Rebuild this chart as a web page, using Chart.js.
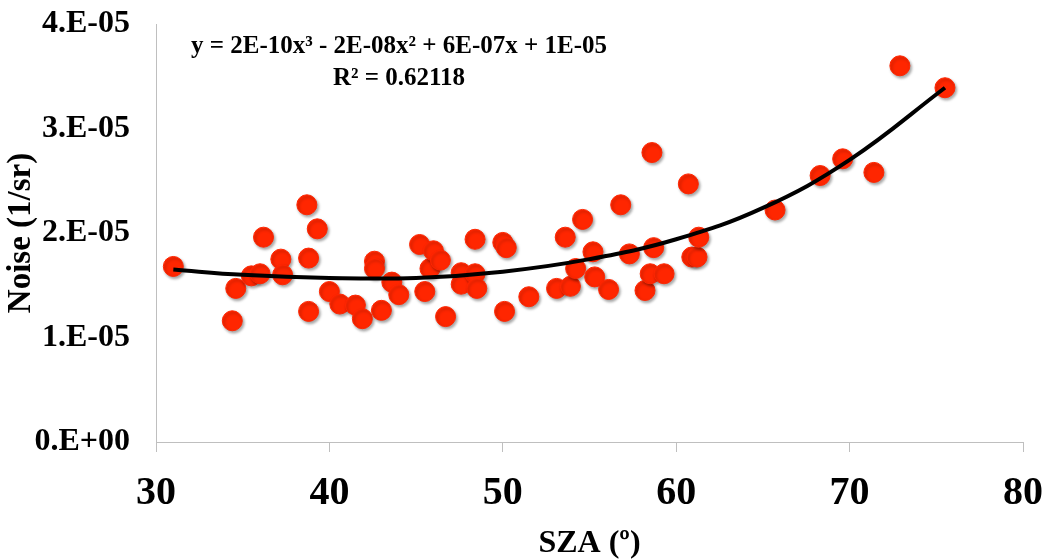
<!DOCTYPE html>
<html>
<head>
<meta charset="utf-8">
<script src="https://cdn.jsdelivr.net/npm/chart.js@4/dist/chart.umd.min.js"></script>
<style>
  body { margin: 0; background: #fff; }
</style>
</head>
<body>
<canvas id="c" width="1048" height="560"></canvas>
<script>
// SZA (deg) and noise (1/sr)
const sza = [31.0, 34.4, 34.6, 35.5, 36.0, 36.2, 37.2, 37.3, 38.7, 38.8,
             38.8, 39.3, 40.0, 40.6, 41.5, 41.9, 42.6, 42.6, 43.0, 43.6,
             44.0, 45.2, 45.5, 45.8, 46.0, 46.4, 46.7, 47.6, 47.6, 48.4,
             48.4, 48.5, 50.0, 50.2, 50.1, 51.5, 53.1, 53.6, 53.9, 54.2,
             54.6, 55.2, 55.3, 56.1, 56.8, 57.3, 58.2, 58.5, 58.6, 58.7,
             59.3, 60.7, 60.9, 61.2, 61.3, 65.7, 68.3, 69.6, 71.4, 72.9,
             75.5];
const noise = [1.68e-5, 1.16e-5, 1.47e-5, 1.59e-5, 1.61e-5, 1.96e-5, 1.75e-5, 1.60e-5, 2.27e-5, 1.76e-5,
               1.25e-5, 2.04e-5, 1.44e-5, 1.32e-5, 1.31e-5, 1.18e-5, 1.73e-5, 1.66e-5, 1.26e-5, 1.53e-5,
               1.41e-5, 1.89e-5, 1.44e-5, 1.66e-5, 1.83e-5, 1.74e-5, 1.20e-5, 1.62e-5, 1.51e-5, 1.61e-5,
               1.94e-5, 1.47e-5, 1.91e-5, 1.86e-5, 1.25e-5, 1.39e-5, 1.47e-5, 1.96e-5, 1.49e-5, 1.66e-5,
               2.13e-5, 1.82e-5, 1.58e-5, 1.46e-5, 2.27e-5, 1.80e-5, 1.45e-5, 1.61e-5, 2.77e-5, 1.86e-5,
               1.61e-5, 2.47e-5, 1.77e-5, 1.77e-5, 1.96e-5, 2.22e-5, 2.55e-5, 2.71e-5, 2.58e-5, 3.60e-5,
               3.39e-5];

// cubic trendline
const trendX = [31, 35, 40, 45, 50, 55, 60, 65, 70, 75.5];
const trendY = [1.65e-5, 1.60e-5, 1.57e-5, 1.57e-5, 1.63e-5, 1.75e-5, 1.94e-5, 2.24e-5, 2.70e-5, 3.39e-5];

const yTicks = [0, 1e-5, 2e-5, 3e-5, 4e-5];
const yTickLabels = ["0.E+00", "1.E-05", "2.E-05", "3.E-05", "4.E-05"];
const xTicks = [30, 40, 50, 60, 70, 80];

const equation = ["y = 2E-10x\u00B3 - 2E-08x\u00B2 + 6E-07x + 1E-05", "R\u00B2 = 0.62118"];

const serif = '"Liberation Serif", "Times New Roman", serif';
const axisGrey = "#bfbfbf";

const pointShadow = {
    id: "pointShadow",
    beforeDatasetDraw(chart, args) {
        if (args.index !== 0) return;
        const ctx = chart.ctx;
        ctx.save();
        ctx.shadowColor = "rgba(0,0,0,0.35)";
        ctx.shadowBlur = 3;
        ctx.shadowOffsetX = 1.5;
        ctx.shadowOffsetY = 2;
    },
    afterDatasetDraw(chart, args) {
        if (args.index !== 0) return;
        chart.ctx.restore();
    }
};

const equationText = {
    id: "equationText",
    afterDraw(chart) {
        const ctx = chart.ctx;
        ctx.save();
        ctx.fillStyle = "#000";
        ctx.font = "bold 25px " + serif;
        ctx.textAlign = "center";
        ctx.textBaseline = "alphabetic";
        ctx.fillText(equation[0], 399, 53);
        ctx.fillText(equation[1], 399, 85);
        ctx.restore();
    }
};

new Chart(document.getElementById("c"), {
    type: "scatter",
    data: {
        datasets: [
            {
                label: "Noise",
                data: sza.map((x, i) => ({ x: x, y: noise[i] })),
                backgroundColor: "#ff2600",
                borderColor: "#ff2600",
                pointRadius: 10,
                pointHoverRadius: 10,
                order: 1
            },
            {
                label: "Trend",
                type: "line",
                data: trendX.map((x, i) => ({ x: x, y: trendY[i] })),
                borderColor: "#000",
                borderWidth: 4,
                pointRadius: 0,
                tension: 0.4,
                fill: false,
                order: 0
            }
        ]
    },
    options: {
        responsive: false,
        animation: false,
        layout: { padding: { top: 24, right: 25, left: 0, bottom: 0 } },
        plugins: {
            legend: { display: false },
            tooltip: { enabled: false }
        },
        scales: {
            x: {
                type: "linear",
                min: 30,
                max: 80,
                afterBuildTicks: s => { s.ticks = xTicks.map(v => ({ value: v })); },
                afterFit: s => { s.height = 118; s.paddingLeft = 0; s.paddingRight = 0; },
                grid: { drawOnChartArea: false, drawTicks: true, tickLength: 10, color: axisGrey },
                border: { color: axisGrey, width: 1 },
                ticks: {
                    padding: 18,
                    color: "#000",
                    font: { family: serif, size: 40, weight: "bold" },
                    maxRotation: 0
                },
                title: {
                    display: true,
                    text: "SZA (\u00BA)",
                    color: "#000",
                    font: { family: serif, size: 32, weight: "bold", lineHeight: 1 },
                    padding: { top: 0, bottom: 0 }
                }
            },
            y: {
                min: 0,
                max: 4e-5,
                afterBuildTicks: s => { s.ticks = yTicks.map(v => ({ value: v })); },
                afterFit: s => { s.width = 156; s.paddingTop = 0; s.paddingBottom = 0; },
                grid: { display: true, drawOnChartArea: false, drawTicks: false },
                border: { color: axisGrey, width: 1 },
                ticks: {
                    padding: 26,
                    color: "#000",
                    font: { family: serif, size: 32, weight: "bold" },
                    callback: (v, i) => yTickLabels[i]
                },
                title: {
                    display: true,
                    text: "Noise (1/sr)",
                    color: "#000",
                    font: { family: serif, size: 33, weight: "bold" },
                    padding: { top: 2, bottom: 0 }
                }
            }
        }
    },
    plugins: [pointShadow, equationText]
});
</script>
</body>
</html>
